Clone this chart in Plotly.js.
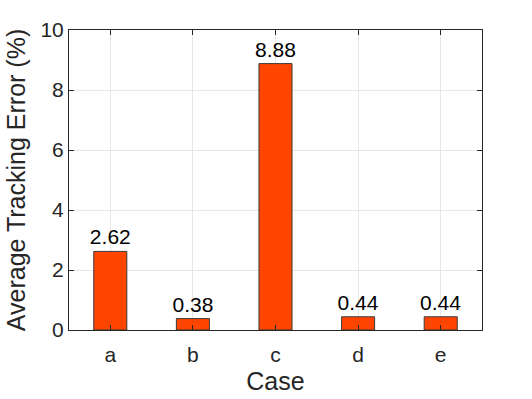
<!DOCTYPE html>
<html>
<head>
<meta charset="utf-8">
<script src="https://cdn.plot.ly/plotly-3.0.1.min.js"></script>
<style>html,body{margin:0;padding:0;background:#fff;}#chart{width:532px;height:399px;}</style>
</head>
<body>
<div id="chart"></div>
<script>
const categories = ['a', 'b', 'c', 'd', 'e'];
const values = [2.62, 0.38, 8.88, 0.44, 0.44];
const yTicks = [0, 2, 4, 6, 8, 10];

const FONT = 'Liberation Sans, Arial, Helvetica, sans-serif';

const trace = {
  type: 'bar',
  x: categories,
  y: values,
  width: 0.4,
  marker: {color: '#FF4500', line: {color: '#3a3a3a', width: 1}},
  text: values.map(v => v.toFixed(2)),
  textposition: 'outside',
  constraintext: 'none',
  textfont: {family: FONT, size: 21, color: '#000'},
  cliponaxis: false,
  hoverinfo: 'none'
};

const axisCommon = {
  showline: true, linecolor: '#262626', linewidth: 1, mirror: 'ticks',
  ticks: 'inside', ticklen: 5, tickcolor: '#262626',
  showgrid: true, gridcolor: '#e6e6e6', gridwidth: 1,
  zeroline: false,
  tickfont: {family: FONT, size: 21, color: '#262626'}
};

const layout = {
  width: 532, height: 399,
  margin: {l: 69, r: 50, t: 30, b: 69},
  paper_bgcolor: '#fff', plot_bgcolor: '#fff',
  showlegend: false,
  font: {family: FONT, color: '#262626'},
  xaxis: Object.assign({}, axisCommon, {
    type: 'category', range: [-0.5, 4.5], ticklabelstandoff: 6,
    title: {text: 'Case', font: {size: 25, color: '#262626'}, standoff: 7}
  }),
  yaxis: Object.assign({}, axisCommon, {
    range: [0, 10], tickvals: yTicks, ticktext: yTicks.map(String),
    title: {text: 'Average Tracking Error (%)', font: {size: 25, color: '#262626'}, standoff: 7}
  })
};

Plotly.newPlot('chart', [trace], layout, {displayModeBar: false, staticPlot: true});
</script>
</body>
</html>
